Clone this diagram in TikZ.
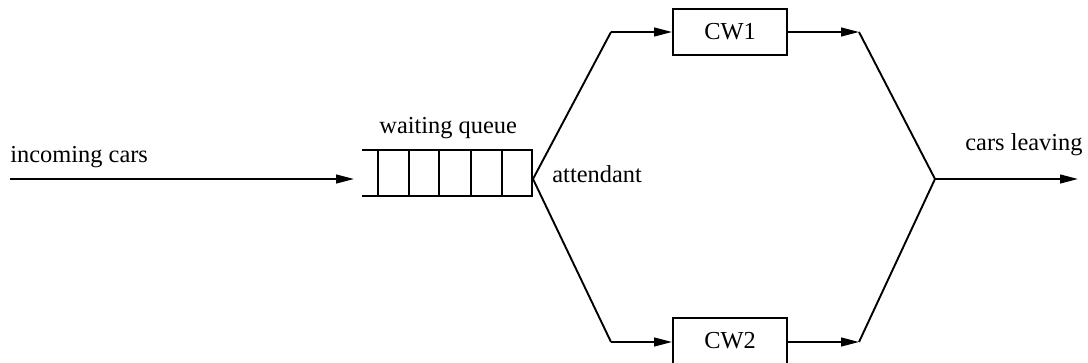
\documentclass[tikz,border=0pt]{standalone}
\usepackage{fontspec}
\setmainfont{Liberation Serif}
\usetikzlibrary{arrows.meta}
\begin{document}
\begin{tikzpicture}[x=0.5pt,y=-0.5pt,
  line/.style={line width=0.95pt, line join=miter},
  arr/.style={line, -{Triangle[length=9pt,width=4.4pt]}},
  cwbox/.style={draw, line width=0.95pt, minimum width=57pt, minimum height=23pt, inner sep=0pt},
  lbl/.style={anchor=base west, inner sep=0pt, font=\fontsize{12.2}{14}\selectfont},
  qbox/.style={minimum width=85pt, minimum height=22.5pt, inner sep=0pt}]
\useasboundingbox (0,0) rectangle (1088,363);
% coordinates
\coordinate (start) at (10,179);
\coordinate (qin) at (354,179);
\node[qbox] (q) at (447,173) {};
\coordinate (att) at (533,179);
\coordinate (u1) at (611,32);
\coordinate (l1) at (611,342);
\node[cwbox] (cw1) at (730,32) {\fontsize{12.2}{14}\selectfont CW1};
\node[cwbox] (cw2) at (730,341) {\fontsize{12.2}{14}\selectfont CW2};
\coordinate (u2) at (859,32);
\coordinate (l2) at (859,342);
\coordinate (j) at (935,179);
\coordinate (end) at (1078,179);
% queue
\draw[line] (q.north west) -- (q.north east) -- (q.south east) -- (q.south west);
\foreach \xx in {378,409,439,471,502} {
  \draw[line] (\xx,150.7) -- (\xx,195.7);
}
% connectors
\draw[arr] (start) -- (qin);
\draw[line] (u1) -- (att) -- (l1);
\draw[arr] (u1) -- (cw1.west);
\draw[arr] (l1) -- (cw2.west |- l1);
\draw[arr] (cw1.east) -- (u2);
\draw[arr] (cw2.east |- l2) -- (l2);
\draw[line] (u2) -- (j) -- (l2);
\draw[arr] (j) -- (end);
% labels
\node[lbl] (tin) at (10,163) {incoming cars};
\node[lbl] (twq) at (379,134) {waiting queue};
\node[lbl] (tat) at (552,183) {attendant};
\node[lbl] (tcl) at (965,151) {cars leaving};
\end{tikzpicture}
\end{document}
